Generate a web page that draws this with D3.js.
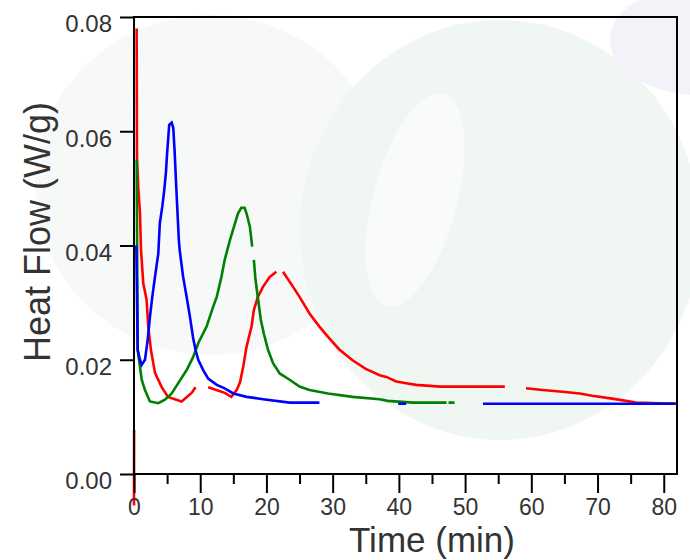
<!DOCTYPE html>
<html>
<head>
<meta charset="utf-8">
<script src="https://cdn.jsdelivr.net/npm/d3@7"></script>
<style>
  html, body { margin: 0; padding: 0; background: #fff; }
  svg { display: block; }
  text { font-family: "Liberation Sans", Arial, Helvetica, sans-serif; fill: #333; }
</style>
</head>
<body>
<div id="chart"></div>
<script>
// ---- data ----
const xTickValues = [0, 10, 20, 30, 40, 50, 60, 70, 80];
const xMinorTicks = [5, 15, 25, 35, 45, 55, 65, 75];
const yTickValues = [0.00, 0.02, 0.04, 0.06, 0.08];

// null = gap in the recorded trace
const redTime = [0, 0.02, null, 0.4, 0.45, 0.65, 0.9, 1.06, 1.4, 1.9, 2.16, 2.56, 3.17, 4.18, 5.13, 7.2, 8.7, 9.3, null,
  11.2, 13.7, 14.7, 15.5, 16.0, 16.5, 17.0, 17.75, 18.1, 18.7, 19.5, 20.5, 21.5, null,
  22.5, 24.0, 25.0, 26.5, 28.0, 29.3, 31, 33, 35, 37.1, 38.1, 39.6, 41.1, 42.6, 46.2, 56.0, null,
  59.2, 61.7, 64.7, 67.3, 69.2, 72.2, 74.3, 75.8, 81.8];
const redFlow = [-0.0055, 0.0077, null, 0.078, 0.0555, 0.0500, 0.0457, 0.0392, 0.0334, 0.0305, 0.0257, 0.0217, 0.0177, 0.0152, 0.0135, 0.0127, 0.0142, 0.0152, null,
  0.0152, 0.0142, 0.0135, 0.0147, 0.0160, 0.0188, 0.0223, 0.0258, 0.0287, 0.0310, 0.0328, 0.0345, 0.0354, null,
  0.0354, 0.0328, 0.0310, 0.0281, 0.0258, 0.0240, 0.0218, 0.0199, 0.0184, 0.0173, 0.0170, 0.0162, 0.0159, 0.0156, 0.0153, 0.0153, null,
  0.0150, 0.0147, 0.0144, 0.0141, 0.0137, 0.0132, 0.0128, 0.0125, 0.0123];

const greenTime = [0.4, 0.56, 0.9, 1.16, 1.66, 2.4, 3.67, 4.68, 5.69, 6.68, 7.95, 8.94, 9.7, 10.96, 11.96, 12.5, 13.2, 13.7, 14.5, 15.1, 15.7, 16.2, 16.7, 17.0, 17.5, 17.85, null,
  18.1, 18.35, 18.75, 19.15, 19.6, 20.25, 21.0, 22.0, 23.5, 25.0, 26.5, 29.3, 33, 37.1, 38.3, 42.1, 47.2, null,
  47.5, 48.4, null, 75.8, 81.8];
const greenFlow = [0.055, 0.0217, 0.0188, 0.0165, 0.0147, 0.0127, 0.0124, 0.0130, 0.0141, 0.0159, 0.0182, 0.0205, 0.0229, 0.0258, 0.0293, 0.0310, 0.0345, 0.0375, 0.0410, 0.0433, 0.0456, 0.0466, 0.0466, 0.0456, 0.0433, 0.0398, null,
  0.0375, 0.0340, 0.0305, 0.0270, 0.0246, 0.0217, 0.0194, 0.0176, 0.0165, 0.0153, 0.0147, 0.0141, 0.0135, 0.0131, 0.0128, 0.0125, 0.0125, null,
  0.0125, 0.0125, null, 0.0123, 0.0123];

const blueTime = [0.35, 0.56, 0.9, 1.16, 1.66, 2.07, 2.41, 2.76, 3.17, 3.67, 3.9, 4.27, 4.57, 4.83, 4.98, 5.17, 5.32, 5.69, 5.93, 6.14, 6.33, 6.55, 6.77, 6.9, 7.42, 7.95, 8.45, 8.94, 9.3, 9.7, 10.45, 11.2, 12.5, 13.7, 15.0, 17.0, 19.5, 23.5, 28.0, null,
  39.9, 41.1, null, 52.7, 81.8];
const blueFlow = [0.040, 0.0217, 0.0200, 0.0191, 0.0200, 0.0235, 0.0275, 0.0310, 0.0345, 0.0386, 0.0439, 0.0468, 0.0497, 0.0529, 0.0558, 0.0588, 0.0611, 0.0615, 0.0606, 0.0564, 0.0515, 0.0462, 0.0410, 0.0392, 0.0345, 0.0310, 0.0275, 0.0237, 0.0217, 0.0200, 0.0182, 0.0167, 0.0156, 0.0150, 0.0141, 0.0135, 0.0131, 0.0125, 0.0125, null,
  0.0123, 0.0123, null, 0.0123, 0.0123];

const seriesColors = ["#ff0000", "#008000", "#0000ff"];

(function () {
  // ---- layout ----
  const W = 690, H = 560;
  const pLeft = 134, pRight = 677, pTop = 17, pBottom = 474;

  const svg = d3.select("#chart").append("svg").attr("width", W).attr("height", H);

  // very faint watermark in background
  const bg = svg.append("g");
  bg.append("ellipse").attr("cx", 210).attr("cy", 185).attr("rx", 175).attr("ry", 170).attr("fill", "#f7f9f8");
  bg.append("ellipse").attr("cx", 500).attr("cy", 230).attr("rx", 200).attr("ry", 210).attr("fill", "#f0f6f2");
  bg.append("ellipse").attr("cx", 415).attr("cy", 200).attr("rx", 42).attr("ry", 110)
    .attr("transform", "rotate(15,415,200)").attr("fill", "#f8fbf9");
  bg.append("ellipse").attr("cx", 700).attr("cy", 40).attr("rx", 90).attr("ry", 55).attr("fill", "#f2f2f8");

  const x = d3.scaleLinear().domain([0, 82]).range([pLeft, pRight]);
  const y = d3.scaleLinear().domain([0, 0.08]).range([pBottom, pTop]);

  function pairs(ts, vs) {
    return ts.map((t, i) => (t === null || vs[i] === null) ? null : [t, vs[i]]);
  }

  const line = d3.line()
    .defined(d => d !== null)
    .x(d => x(d[0]))
    .y(d => y(d[1]));

  const series = [pairs(redTime, redFlow), pairs(greenTime, greenFlow), pairs(blueTime, blueFlow)];
  const lines = svg.append("g");
  series.forEach((s, i) => {
    lines.append("path")
      .attr("d", line(s))
      .attr("fill", "none")
      .attr("stroke", seriesColors[i])
      .attr("stroke-width", 2.6)
      .attr("stroke-linejoin", "miter");
  });

  // frame
  svg.append("rect")
    .attr("x", pLeft).attr("y", pTop)
    .attr("width", pRight - pLeft).attr("height", pBottom - pTop)
    .attr("fill", "none").attr("stroke", "#000").attr("stroke-width", 2);

  // x axis
  const xAxis = d3.axisBottom(x).tickValues(xTickValues).tickSize(19).tickPadding(6).tickFormat(d3.format("d"));
  const gx = svg.append("g").attr("transform", `translate(0,${pBottom})`).call(xAxis);
  gx.select(".domain").remove();
  gx.selectAll(".tick line").attr("stroke", "#000").attr("stroke-width", 2);
  gx.selectAll(".tick text").attr("font-size", 23).attr("fill", "#333").attr("dy", "0.71em")
    .style("font-family", "'Liberation Sans', Arial, sans-serif");

  const gxm = svg.append("g").attr("transform", `translate(0,${pBottom})`)
    .call(d3.axisBottom(x).tickValues(xMinorTicks).tickSize(10).tickFormat(""));
  gxm.select(".domain").remove();
  gxm.selectAll(".tick line").attr("stroke", "#000").attr("stroke-width", 2);

  // y axis
  const yAxis = d3.axisLeft(y).tickValues(yTickValues).tickSize(14).tickPadding(8).tickFormat(d3.format(".2f"));
  const gy = svg.append("g").attr("transform", `translate(${pLeft},0)`).call(yAxis);
  gy.select(".domain").remove();
  gy.selectAll(".tick line").attr("stroke", "#000").attr("stroke-width", 2);
  gy.selectAll(".tick text").attr("font-size", 24).attr("fill", "#333").attr("dy", "0.62em")
    .style("font-family", "'Liberation Sans', Arial, sans-serif");

  // axis titles
  svg.append("text")
    .attr("x", 432).attr("y", 552)
    .attr("text-anchor", "middle")
    .attr("font-size", 35)
    .text("Time (min)");

  svg.append("text")
    .attr("transform", "translate(50,232) rotate(-90)")
    .attr("text-anchor", "middle")
    .attr("font-size", 36)
    .text("Heat Flow (W/g)");
})();
</script>
</body>
</html>
